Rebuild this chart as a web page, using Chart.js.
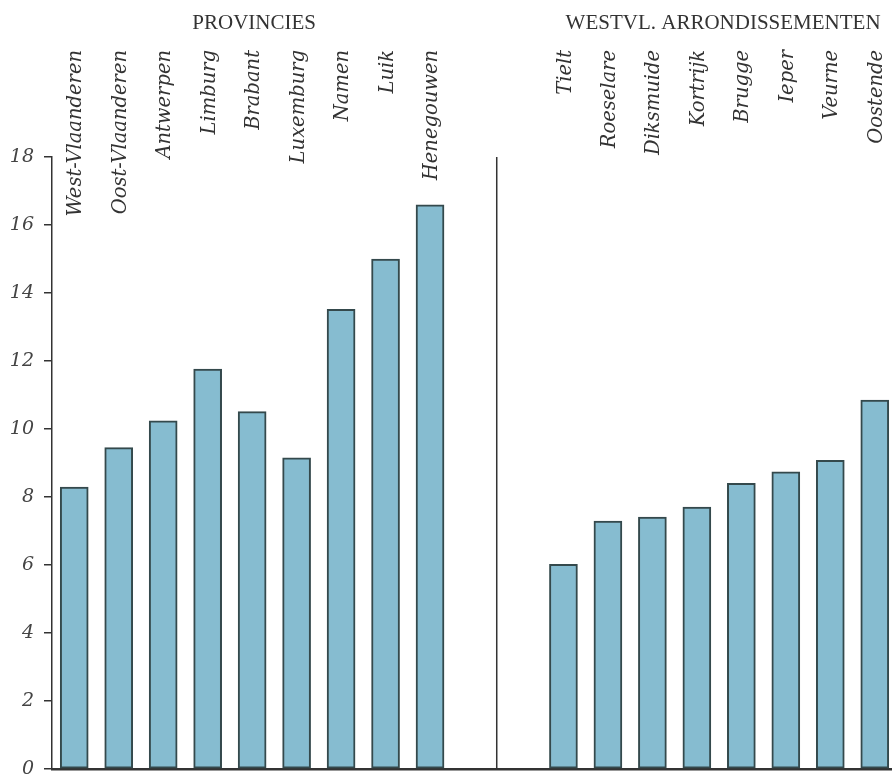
<!DOCTYPE html>
<html>
<head>
<meta charset="utf-8">
<script src="https://cdn.jsdelivr.net/npm/chart.js@4/dist/chart.umd.min.js"></script>
<style>
  html, body { margin: 0; padding: 0; background: #fff; overflow: hidden; }
  #wrap { width: 898px; height: 774px; position: relative; }
</style>
</head>
<body>
<div id="wrap"><canvas id="c"></canvas></div>
<script>
// ---- data ----
const provinces = ['West-Vlaanderen','Oost-Vlaanderen','Antwerpen','Limburg','Brabant','Luxemburg','Namen','Luik','Henegouwen'];
const provinceValues = [8.29, 9.45, 10.24, 11.76, 10.51, 9.15, 13.52, 15.0, 16.59];
const arrondissements = ['Tielt','Roeselare','Diksmuide','Kortrijk','Brugge','Ieper','Veurne','Oostende'];
const arrondissementValues = [6.02, 7.29, 7.41, 7.70, 8.40, 8.74, 9.08, 10.85];
const groupTitles = ['PROVINCIES', 'WESTVL. ARRONDISSEMENTEN'];
const yTicks = [0, 2, 4, 6, 8, 10, 12, 14, 16, 18];
const gapSlots = 2;

// build category table (gap slots between the two groups)
const gapLabels = Array(gapSlots).fill('');
const labels = [...provinces, ...gapLabels, ...arrondissements];
const values = [...provinceValues, ...Array(gapSlots).fill(null), ...arrondissementValues];

const INK = '#333333';

const decorPlugin = {
  id: 'decor',
  afterDraw(chart) {
    const ctx = chart.ctx;
    const x = chart.scales.x, y = chart.scales.y;
    ctx.save();
    // divider between the groups
    const i1 = provinces.length - 1 + gapSlots / 2;
    const dx = (x.getPixelForValue(i1) + x.getPixelForValue(i1 + 1)) / 2;
    ctx.strokeStyle = INK;
    ctx.lineWidth = 1.5;
    ctx.beginPath();
    ctx.moveTo(dx, y.getPixelForValue(18));
    ctx.lineTo(dx, y.getPixelForValue(0));
    ctx.stroke();

    // rotated category labels, top aligned
    ctx.fillStyle = INK;
    ctx.font = 'italic 19.5px "DejaVu Serif", serif';
    ctx.textAlign = 'right';
    ctx.textBaseline = 'middle';
    labels.forEach((lab, i) => {
      if (!lab) return;
      const px = x.getPixelForValue(i);
      ctx.save();
      ctx.translate(px + 2, 50);
      ctx.rotate(-Math.PI / 2);
      ctx.fillText(lab, 0, 0);
      ctx.restore();
    });

    // group titles
    ctx.font = '21px "Liberation Serif", serif';
    ctx.textAlign = 'center';
    ctx.textBaseline = 'middle';
    const p0 = x.getPixelForValue(0), p1 = x.getPixelForValue(provinces.length - 1);
    ctx.fillText(groupTitles[0], (p0 + p1) / 2 + 2, 23);
    const a0 = x.getPixelForValue(provinces.length + gapSlots);
    const a1 = x.getPixelForValue(labels.length - 1);
    ctx.fillText(groupTitles[1], (a0 + a1) / 2 + 4, 23);
    ctx.restore();
  }
};

new Chart(document.getElementById('c'), {
  type: 'bar',
  data: {
    labels: labels,
    datasets: [{
      data: values,
      backgroundColor: '#86bcd0',
      borderColor: '#34494c',
      borderWidth: 2,
      barThickness: 28,
      borderSkipped: false
    }]
  },
  options: {
    responsive: true,
    maintainAspectRatio: false,
    animation: false,
    layout: { padding: { top: 157, right: 1, bottom: 0, left: 0 } },
    plugins: { legend: { display: false }, tooltip: { enabled: false } },
    scales: {
      x: {
        type: 'category',
        offset: true,
        grid: { display: false, drawTicks: false },
        border: { display: true, color: INK, width: 2.5 },
        ticks: { display: false },
        afterFit(s) { s.height = 5; }
      },
      y: {
        min: 0, max: 18,
        afterBuildTicks(s) { s.ticks = yTicks.map(v => ({ value: v })); },
        grid: { drawOnChartArea: false, tickLength: 8, color: INK, lineWidth: 1.5 },
        border: { display: true, color: INK, width: 1.5 },
        ticks: {
          color: '#444444',
          padding: 10,
          font: { family: '"DejaVu Serif", serif', style: 'italic', size: 19 }
        },
        afterFit(s) { s.width = 52; s.paddingTop = 0; s.paddingBottom = 0; }
      }
    }
  },
  plugins: [decorPlugin]
});
</script>
</body>
</html>
